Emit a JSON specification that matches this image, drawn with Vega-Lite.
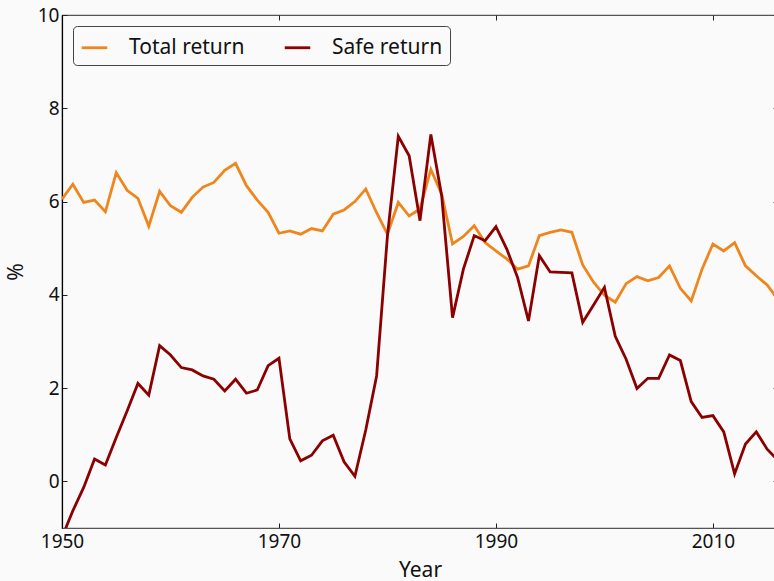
{
  "$schema": "https://vega.github.io/schema/vega-lite/v6.json",
  "autosize": {"type": "none"},
  "padding": {"left": 62, "top": 15, "right": 0, "bottom": 53},
  "width": 716,
  "height": 513,
  "background": "#fafafa",
  "config": {
    "font": "Noto Sans",
    "view": {"stroke": "#555", "strokeWidth": 1.2},
    "axis": {"grid": false, "labelFontSize": 19, "titleFontSize": 21, "labelColor": "#111", "titleColor": "#111", "titleFontWeight": "normal", "tickColor": "#222", "domainColor": "#555", "labelFont": "Noto Sans", "titleFont": "Noto Sans", "labelFlush": false}
  },
  "datasets": {
    "ret": [
      {"year": 1950, "series": "Total return", "value": 6.05}, {"year": 1951, "series": "Total return", "value": 6.37},
      {"year": 1952, "series": "Total return", "value": 5.98}, {"year": 1953, "series": "Total return", "value": 6.03},
      {"year": 1954, "series": "Total return", "value": 5.78}, {"year": 1955, "series": "Total return", "value": 6.62},
      {"year": 1956, "series": "Total return", "value": 6.24}, {"year": 1957, "series": "Total return", "value": 6.07},
      {"year": 1958, "series": "Total return", "value": 5.47}, {"year": 1959, "series": "Total return", "value": 6.22},
      {"year": 1960, "series": "Total return", "value": 5.91}, {"year": 1961, "series": "Total return", "value": 5.77},
      {"year": 1962, "series": "Total return", "value": 6.09}, {"year": 1963, "series": "Total return", "value": 6.31},
      {"year": 1964, "series": "Total return", "value": 6.41}, {"year": 1965, "series": "Total return", "value": 6.67},
      {"year": 1966, "series": "Total return", "value": 6.82}, {"year": 1967, "series": "Total return", "value": 6.34},
      {"year": 1968, "series": "Total return", "value": 6.03}, {"year": 1969, "series": "Total return", "value": 5.77},
      {"year": 1970, "series": "Total return", "value": 5.32}, {"year": 1971, "series": "Total return", "value": 5.37},
      {"year": 1972, "series": "Total return", "value": 5.30}, {"year": 1973, "series": "Total return", "value": 5.42},
      {"year": 1974, "series": "Total return", "value": 5.37}, {"year": 1975, "series": "Total return", "value": 5.73},
      {"year": 1976, "series": "Total return", "value": 5.82}, {"year": 1977, "series": "Total return", "value": 6.00},
      {"year": 1978, "series": "Total return", "value": 6.27}, {"year": 1979, "series": "Total return", "value": 5.76},
      {"year": 1980, "series": "Total return", "value": 5.30}, {"year": 1981, "series": "Total return", "value": 5.98},
      {"year": 1982, "series": "Total return", "value": 5.69}, {"year": 1983, "series": "Total return", "value": 5.84},
      {"year": 1984, "series": "Total return", "value": 6.69}, {"year": 1985, "series": "Total return", "value": 6.16},
      {"year": 1986, "series": "Total return", "value": 5.09}, {"year": 1987, "series": "Total return", "value": 5.25},
      {"year": 1988, "series": "Total return", "value": 5.48}, {"year": 1989, "series": "Total return", "value": 5.12},
      {"year": 1990, "series": "Total return", "value": 4.94}, {"year": 1991, "series": "Total return", "value": 4.77},
      {"year": 1992, "series": "Total return", "value": 4.55}, {"year": 1993, "series": "Total return", "value": 4.62},
      {"year": 1994, "series": "Total return", "value": 5.27}, {"year": 1995, "series": "Total return", "value": 5.34},
      {"year": 1996, "series": "Total return", "value": 5.39}, {"year": 1997, "series": "Total return", "value": 5.34},
      {"year": 1998, "series": "Total return", "value": 4.64}, {"year": 1999, "series": "Total return", "value": 4.27},
      {"year": 2000, "series": "Total return", "value": 3.99}, {"year": 2001, "series": "Total return", "value": 3.84},
      {"year": 2002, "series": "Total return", "value": 4.24}, {"year": 2003, "series": "Total return", "value": 4.39},
      {"year": 2004, "series": "Total return", "value": 4.30}, {"year": 2005, "series": "Total return", "value": 4.37},
      {"year": 2006, "series": "Total return", "value": 4.62}, {"year": 2007, "series": "Total return", "value": 4.14},
      {"year": 2008, "series": "Total return", "value": 3.87}, {"year": 2009, "series": "Total return", "value": 4.55},
      {"year": 2010, "series": "Total return", "value": 5.09}, {"year": 2011, "series": "Total return", "value": 4.94},
      {"year": 2012, "series": "Total return", "value": 5.12}, {"year": 2013, "series": "Total return", "value": 4.62},
      {"year": 2014, "series": "Total return", "value": 4.41}, {"year": 2015, "series": "Total return", "value": 4.21},
      {"year": 2016, "series": "Total return", "value": 3.90},
      {"year": 1950, "series": "Safe return", "value": -1.2}, {"year": 1951, "series": "Safe return", "value": -0.63},
      {"year": 1952, "series": "Safe return", "value": -0.13}, {"year": 1953, "series": "Safe return", "value": 0.48},
      {"year": 1954, "series": "Safe return", "value": 0.35}, {"year": 1955, "series": "Safe return", "value": 0.94},
      {"year": 1956, "series": "Safe return", "value": 1.51}, {"year": 1957, "series": "Safe return", "value": 2.10},
      {"year": 1958, "series": "Safe return", "value": 1.85}, {"year": 1959, "series": "Safe return", "value": 2.91},
      {"year": 1960, "series": "Safe return", "value": 2.71}, {"year": 1961, "series": "Safe return", "value": 2.44},
      {"year": 1962, "series": "Safe return", "value": 2.39}, {"year": 1963, "series": "Safe return", "value": 2.26},
      {"year": 1964, "series": "Safe return", "value": 2.19}, {"year": 1965, "series": "Safe return", "value": 1.94},
      {"year": 1966, "series": "Safe return", "value": 2.19}, {"year": 1967, "series": "Safe return", "value": 1.89},
      {"year": 1968, "series": "Safe return", "value": 1.96}, {"year": 1969, "series": "Safe return", "value": 2.48},
      {"year": 1970, "series": "Safe return", "value": 2.64}, {"year": 1971, "series": "Safe return", "value": 0.91},
      {"year": 1972, "series": "Safe return", "value": 0.44}, {"year": 1973, "series": "Safe return", "value": 0.56},
      {"year": 1974, "series": "Safe return", "value": 0.87}, {"year": 1975, "series": "Safe return", "value": 0.99},
      {"year": 1976, "series": "Safe return", "value": 0.42}, {"year": 1977, "series": "Safe return", "value": 0.11},
      {"year": 1978, "series": "Safe return", "value": 1.10}, {"year": 1979, "series": "Safe return", "value": 2.26},
      {"year": 1980, "series": "Safe return", "value": 5.27}, {"year": 1981, "series": "Safe return", "value": 7.40},
      {"year": 1982, "series": "Safe return", "value": 6.98}, {"year": 1983, "series": "Safe return", "value": 5.59},
      {"year": 1984, "series": "Safe return", "value": 7.44}, {"year": 1985, "series": "Safe return", "value": 6.12},
      {"year": 1986, "series": "Safe return", "value": 3.51}, {"year": 1987, "series": "Safe return", "value": 4.55},
      {"year": 1988, "series": "Safe return", "value": 5.27}, {"year": 1989, "series": "Safe return", "value": 5.16},
      {"year": 1990, "series": "Safe return", "value": 5.46}, {"year": 1991, "series": "Safe return", "value": 4.98},
      {"year": 1992, "series": "Safe return", "value": 4.37}, {"year": 1993, "series": "Safe return", "value": 3.44},
      {"year": 1994, "series": "Safe return", "value": 4.84}, {"year": 1995, "series": "Safe return", "value": 4.49},
      {"year": 1996, "series": "Safe return", "value": 4.48}, {"year": 1997, "series": "Safe return", "value": 4.47},
      {"year": 1998, "series": "Safe return", "value": 3.41}, {"year": 1999, "series": "Safe return", "value": 3.78},
      {"year": 2000, "series": "Safe return", "value": 4.16}, {"year": 2001, "series": "Safe return", "value": 3.11},
      {"year": 2002, "series": "Safe return", "value": 2.62}, {"year": 2003, "series": "Safe return", "value": 1.99},
      {"year": 2004, "series": "Safe return", "value": 2.21}, {"year": 2005, "series": "Safe return", "value": 2.21},
      {"year": 2006, "series": "Safe return", "value": 2.71}, {"year": 2007, "series": "Safe return", "value": 2.59},
      {"year": 2008, "series": "Safe return", "value": 1.71}, {"year": 2009, "series": "Safe return", "value": 1.37},
      {"year": 2010, "series": "Safe return", "value": 1.41}, {"year": 2011, "series": "Safe return", "value": 1.06},
      {"year": 2012, "series": "Safe return", "value": 0.16}, {"year": 2013, "series": "Safe return", "value": 0.80},
      {"year": 2014, "series": "Safe return", "value": 1.06}, {"year": 2015, "series": "Safe return", "value": 0.69},
      {"year": 2016, "series": "Safe return", "value": 0.45}
    ]
  },
  "data": {"name": "ret"},
  "layer": [
    {
      "mark": {"type": "line", "strokeWidth": 2.8, "clip": true},
      "encoding": {
        "x": {"field": "year", "type": "quantitative", "scale": {"domain": [1950, 2016], "nice": false, "zero": false},
              "axis": {"values": [1950, 1970, 1990, 2010], "format": "d", "title": "Year", "tickSize": -5, "labelPadding": 9, "titlePadding": 8, "domainColor": "#555", "domainWidth": 1.2}},
        "y": {"field": "value", "type": "quantitative", "scale": {"domain": [-1, 10], "nice": false, "zero": false},
              "axis": {"values": [0, 2, 4, 6, 8, 10], "title": "%", "tickSize": -5, "labelPadding": 8, "titlePadding": 11, "domainColor": "#000", "domainWidth": 1.2}},
        "color": {"field": "series", "type": "nominal",
                  "scale": {"domain": ["Total return", "Safe return"], "range": ["#ef861d", "#8b0000"]},
                  "legend": {"title": null, "orient": "none", "legendX": 11, "legendY": 11, "direction": "horizontal",
                             "symbolType": "stroke", "symbolSize": 650, "symbolStrokeWidth": 2.8, "labelFontSize": 21,
                             "labelColor": "#111", "labelOffset": 20, "columnPadding": 34, "padding": 7,
                             "strokeColor": "#444", "cornerRadius": 4, "fillColor": "#fafafa"}}
      }
    },
    {
      "mark": {"type": "line", "opacity": 0},
      "encoding": {
        "x": {"field": "year", "type": "quantitative", "axis": {"orient": "top", "values": [1950, 1970, 1990, 2010], "labels": false, "title": null, "domain": false, "tickSize": -5}},
        "y": {"field": "value", "type": "quantitative", "axis": {"orient": "right", "values": [0, 2, 4, 6, 8, 10], "labels": false, "title": null, "domain": false, "tickSize": -5}}
      }
    }
  ],
  "resolve": {"axis": {"x": "independent", "y": "independent"}}
}
